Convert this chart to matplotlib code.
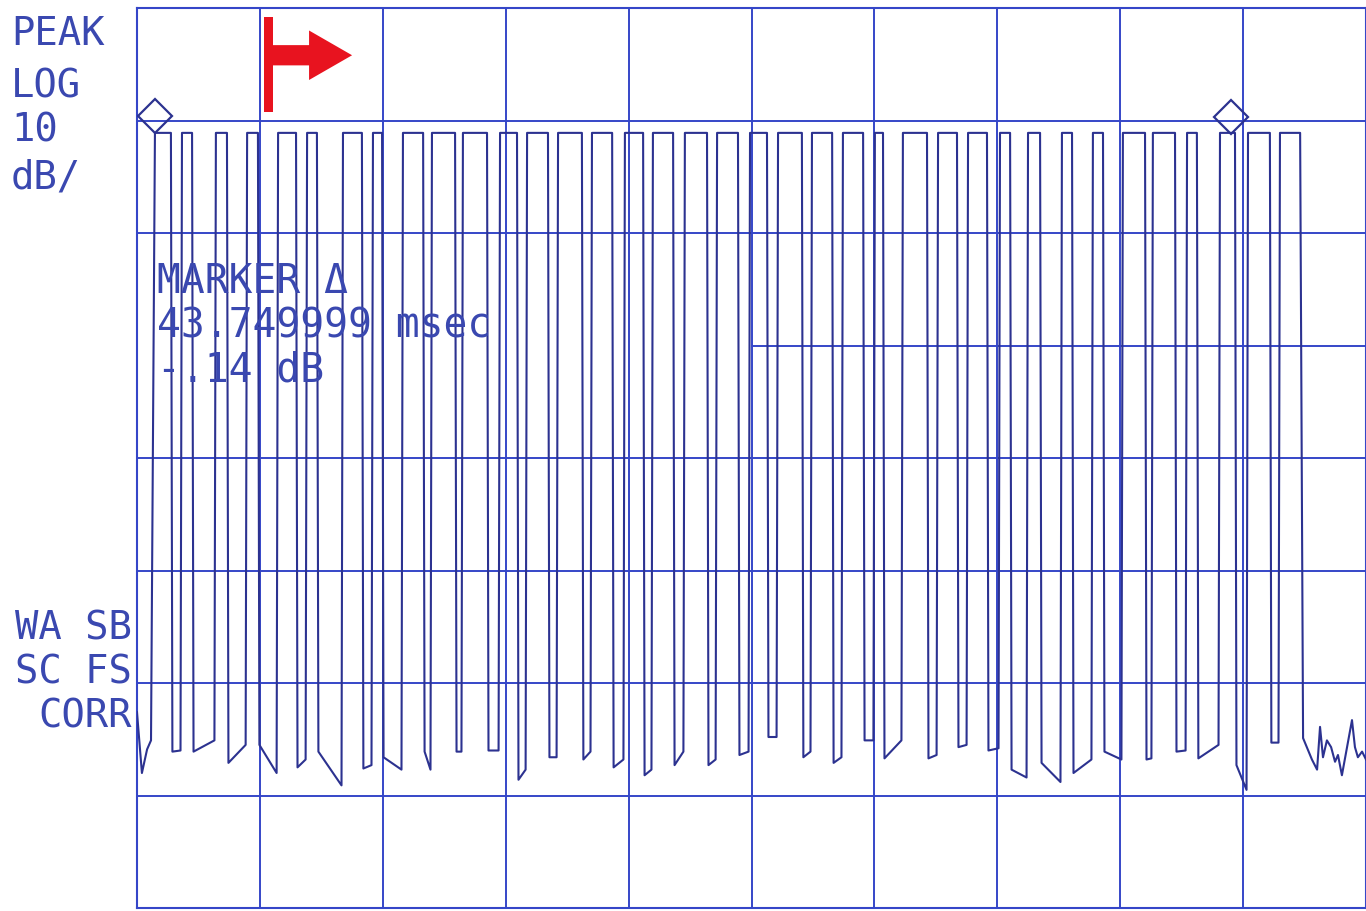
import numpy as np
import matplotlib.pyplot as plt
from matplotlib.patches import Rectangle, FancyArrow

# sweep: 50 ms span, 10 dB/div, ref level 0 dB
# pulse edges (ms)
rise_ms = [0.73, 1.83, 3.21, 4.48, 5.74, 6.92, 8.38, 9.60, 10.82, 12.00,
           13.26, 14.77, 15.87, 17.13, 18.51, 19.85, 20.99, 22.29, 23.60, 24.94,
           26.08, 27.46, 28.72, 30.02, 31.16, 32.59, 33.81, 35.11, 36.25, 37.63,
           38.89, 40.11, 41.33, 42.72, 44.06, 45.20, 46.50]
fall_ms = [1.38, 2.24, 3.66, 4.92, 6.47, 7.32, 9.15, 9.97, 11.64, 12.94,
           14.24, 15.46, 16.72, 18.10, 19.33, 20.59, 21.81, 23.19, 24.45, 25.63,
           27.05, 28.28, 29.54, 30.35, 32.14, 33.36, 34.58, 35.52, 36.74, 38.04,
           39.30, 41.01, 42.23, 43.12, 44.67, 46.09, 47.32]
top_db = -11.1

# floor level in each gap, just after the fall and just before the next rise
floor_a = [-66.1, -66.1, -67.1, -65.5, -67.5, -66.1, -67.6, -66.6, -66.1, -66.1,
           -66.0, -68.6, -66.6, -66.8, -67.5, -68.2, -67.3, -67.3, -66.4, -64.8,
           -66.6, -67.1, -65.1, -66.7, -66.7, -65.7, -66.0, -67.7, -67.1, -68.0,
           -66.1, -66.8, -66.1, -66.7, -67.3, -65.3]
floor_b = [-66.0, -65.1, -65.5, -68.0, -66.8, -69.1, -67.3, -67.7, -67.7, -66.1,
           -66.0, -67.7, -66.6, -66.1, -66.8, -67.7, -66.1, -66.8, -66.1, -64.8,
           -66.1, -66.6, -65.1, -65.1, -66.4, -65.5, -65.8, -68.4, -68.8, -66.8,
           -66.8, -66.7, -66.0, -65.5, -69.5, -65.3]

# start of sweep before first pulse
lead_ms = [0.0, 0.20, 0.41, 0.57]
lead_db = [-62.6, -68.0, -65.9, -65.1]

# noise after last pulse
tail_ms = [47.44, 47.80, 48.01, 48.13, 48.25, 48.41, 48.58, 48.74, 48.86, 49.02,
           49.23, 49.43, 49.55, 49.67, 49.84, 50.00]
tail_db = [-64.9, -66.8, -67.7, -63.9, -66.6, -65.1, -65.7, -67.0, -66.4, -68.2,
           -65.7, -63.3, -65.7, -66.6, -66.1, -66.8]

marker_ms = [0.75, 44.50]
marker_db = [-9.6, -9.7]

left_labels = ["PEAK", "LOG", "10", "dB/"]
left_labels_y = [34, 87, 131, 178]
lower_labels = ["WA SB", "SC FS", "CORR"]
lower_labels_y = [628, 672, 716]
readout = ["MARKER \u0394", "43.749999 msec", "-.14 dB"]
readout_y = [282, 326, 370]

grid_col = '#3546c8'
trace_col = '#2c3290'
text_col = '#3a48b0'
mono = 'DejaVu Sans Mono'

W, H = 1366, 911
fig = plt.figure(figsize=(W / 100, H / 100), dpi=100)
ax = fig.add_axes([137 / W, 3 / H, 1229 / W, 900 / H])
ax.set_xlim(0, 50)
ax.set_ylim(-80, 0)
ax.set_xticks([])
ax.set_yticks([])
for s in ax.spines.values():
    s.set_color(grid_col)
    s.set_linewidth(1.5)

# graticule
for v in range(5, 50, 5):
    ax.axvline(v, color=grid_col, lw=1.4, zorder=1)
for h in [-10, -20, -40, -50, -60, -70]:
    ax.axhline(h, color=grid_col, lw=1.4, zorder=1)
ax.plot([25, 50], [-30, -30], color=grid_col, lw=1.4, zorder=1)

# build trace
edge = 0.06
xs = list(lead_ms)
ys = list(lead_db)
n = len(rise_ms)
for i in range(n):
    xs += [rise_ms[i], fall_ms[i]]
    ys += [top_db, top_db]
    if i < n - 1:
        xs += [fall_ms[i] + edge, rise_ms[i + 1] - edge]
        ys += [floor_a[i], floor_b[i]]
xs += tail_ms
ys += tail_db
ax.plot(xs, ys, color=trace_col, lw=1.5, zorder=3)

ax.plot(marker_ms, marker_db, 'D', ms=17, mfc='none', mec=trace_col, mew=1.6, zorder=4)

# red marker / arrow
ax.add_patch(Rectangle((5.17, -9.2), 0.36, 8.4, color='#e8131f', lw=0, zorder=5))
ax.add_patch(FancyArrow(5.5, -4.2, 3.25, 0, width=1.8, head_width=4.4, head_length=1.75,
                        length_includes_head=True, color='#e8131f', lw=0, zorder=5))

for t, y in zip(left_labels, left_labels_y):
    fig.text(11 / W, 1 - y / H, t, family=mono, fontsize=28, color=text_col, va='center')
for t, y in zip(lower_labels, lower_labels_y):
    fig.text(132 / W, 1 - y / H, t, family=mono, fontsize=28, color=text_col, va='center', ha='right')
for t, y in zip(readout, readout_y):
    fig.text(157 / W, 1 - y / H, t, family=mono, fontsize=28.5, color=text_col, va='center', zorder=6)

fig.savefig('out.png', dpi=100, facecolor='white')
